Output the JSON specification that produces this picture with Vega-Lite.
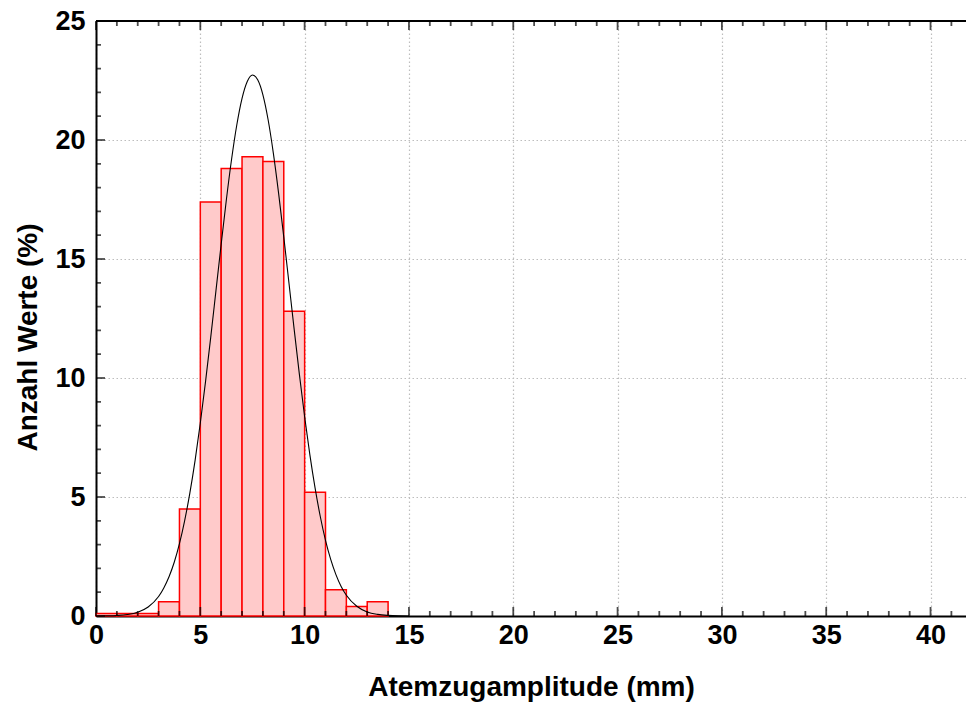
{
  "$schema": "https://vega.github.io/schema/vega-lite/v6.json",
  "width": 870,
  "height": 595,
  "autosize": {"type": "none"},
  "padding": {"left": 96, "top": 21, "right": 0, "bottom": 89},
  "background": "white",
  "config": {"view": {"stroke": null}, "font": "Liberation Sans"},
  "datasets": {
    "bars": [
      {"bin_start": 0, "bin_end": 1, "percent": 0.1},
      {"bin_start": 1, "bin_end": 2, "percent": 0.1},
      {"bin_start": 2, "bin_end": 3, "percent": 0.1},
      {"bin_start": 3, "bin_end": 4, "percent": 0.6},
      {"bin_start": 4, "bin_end": 5, "percent": 4.5},
      {"bin_start": 5, "bin_end": 6, "percent": 17.4},
      {"bin_start": 6, "bin_end": 7, "percent": 18.8},
      {"bin_start": 7, "bin_end": 8, "percent": 19.3},
      {"bin_start": 8, "bin_end": 9, "percent": 19.1},
      {"bin_start": 9, "bin_end": 10, "percent": 12.8},
      {"bin_start": 10, "bin_end": 11, "percent": 5.2},
      {"bin_start": 11, "bin_end": 12, "percent": 1.1},
      {"bin_start": 12, "bin_end": 13, "percent": 0.4},
      {"bin_start": 13, "bin_end": 14, "percent": 0.6}
    ],
    "curve": [
      {"x": 0, "y": 0.002}, {"x": 0.5, "y": 0.008}, {"x": 1, "y": 0.023}, {"x": 1.5, "y": 0.063},
      {"x": 2, "y": 0.16}, {"x": 2.5, "y": 0.38}, {"x": 3, "y": 0.82}, {"x": 3.25, "y": 1.18},
      {"x": 3.5, "y": 1.65}, {"x": 3.75, "y": 2.26}, {"x": 4, "y": 3.04}, {"x": 4.25, "y": 4.01},
      {"x": 4.5, "y": 5.17}, {"x": 4.75, "y": 6.54}, {"x": 5, "y": 8.11}, {"x": 5.25, "y": 9.85},
      {"x": 5.5, "y": 11.72}, {"x": 5.75, "y": 13.67}, {"x": 6, "y": 15.62}, {"x": 6.25, "y": 17.5},
      {"x": 6.5, "y": 19.2}, {"x": 6.75, "y": 20.64}, {"x": 7, "y": 21.75}, {"x": 7.25, "y": 22.46},
      {"x": 7.5, "y": 22.73}, {"x": 7.75, "y": 22.53}, {"x": 8, "y": 21.9}, {"x": 8.25, "y": 20.85},
      {"x": 8.5, "y": 19.45}, {"x": 8.75, "y": 17.78}, {"x": 9, "y": 15.93}, {"x": 9.25, "y": 13.98},
      {"x": 9.5, "y": 12.03}, {"x": 9.75, "y": 10.14}, {"x": 10, "y": 8.37}, {"x": 10.25, "y": 6.78},
      {"x": 10.5, "y": 5.38}, {"x": 10.75, "y": 4.18}, {"x": 11, "y": 3.18}, {"x": 11.25, "y": 2.38},
      {"x": 11.5, "y": 1.74}, {"x": 11.75, "y": 1.24}, {"x": 12, "y": 0.87}, {"x": 12.5, "y": 0.41},
      {"x": 13, "y": 0.17}, {"x": 13.5, "y": 0.068}, {"x": 14, "y": 0.025}, {"x": 14.5, "y": 0.008},
      {"x": 15, "y": 0.003}
    ],
    "ticks": [
      {"t": 0, "major": 1}, {"t": 1, "major": 0}, {"t": 2, "major": 0}, {"t": 3, "major": 0}, {"t": 4, "major": 0},
      {"t": 5, "major": 1}, {"t": 6, "major": 0}, {"t": 7, "major": 0}, {"t": 8, "major": 0}, {"t": 9, "major": 0},
      {"t": 10, "major": 1}, {"t": 11, "major": 0}, {"t": 12, "major": 0}, {"t": 13, "major": 0}, {"t": 14, "major": 0},
      {"t": 15, "major": 1}, {"t": 16, "major": 0}, {"t": 17, "major": 0}, {"t": 18, "major": 0}, {"t": 19, "major": 0},
      {"t": 20, "major": 1}, {"t": 21, "major": 0}, {"t": 22, "major": 0}, {"t": 23, "major": 0}, {"t": 24, "major": 0},
      {"t": 25, "major": 1}, {"t": 26, "major": 0}, {"t": 27, "major": 0}, {"t": 28, "major": 0}, {"t": 29, "major": 0},
      {"t": 30, "major": 1}, {"t": 31, "major": 0}, {"t": 32, "major": 0}, {"t": 33, "major": 0}, {"t": 34, "major": 0},
      {"t": 35, "major": 1}, {"t": 36, "major": 0}, {"t": 37, "major": 0}, {"t": 38, "major": 0}, {"t": 39, "major": 0},
      {"t": 40, "major": 1}, {"t": 41, "major": 0}
    ]
  },
  "layer": [
    {
      "data": {"name": "bars"},
      "mark": {"type": "rect", "fill": "#ffcaca", "stroke": "#ff0000", "strokeWidth": 1.5},
      "encoding": {
        "x": {
          "field": "bin_start", "type": "quantitative",
          "scale": {"domain": [0, 41.7], "nice": false, "zero": false},
          "axis": {
            "orient": "bottom",
            "values": [0, 5, 10, 15, 20, 25, 30, 35, 40],
            "labelFontSize": 27, "labelFontWeight": "bold", "labelColor": "black",
            "labelPadding": 6, "labelFlush": false, "labelOverlap": false,
            "ticks": false,
            "domainColor": "black", "domainWidth": 2,
            "grid": true, "gridColor": "#bdbdbd", "gridDash": [1.5, 2.5], "gridWidth": 1.2,
            "title": "Atemzugamplitude (mm)", "titleFontSize": 28, "titleFontWeight": "bold", "titleColor": "black",
            "titlePadding": 25
          }
        },
        "x2": {"field": "bin_end"},
        "y": {
          "field": "percent", "type": "quantitative",
          "scale": {"domain": [0, 25], "nice": false},
          "axis": {
            "orient": "left",
            "values": [0, 5, 10, 15, 20, 25],
            "labelFontSize": 27, "labelFontWeight": "bold", "labelColor": "black",
            "labelPadding": 11, "labelOverlap": false, "labelFlush": false,
            "ticks": false,
            "domainColor": "black", "domainWidth": 2,
            "grid": true, "gridColor": "#bdbdbd", "gridDash": [1.5, 2.5], "gridWidth": 1.2,
            "title": "Anzahl Werte (%)", "titleFontSize": 28, "titleFontWeight": "bold", "titleColor": "black",
            "titlePadding": 12, "titleY": 316
          }
        },
        "y2": {"datum": 0}
      }
    },
    {
      "data": {"name": "curve"},
      "mark": {"type": "line", "color": "black", "strokeWidth": 1.1, "interpolate": "monotone"},
      "encoding": {
        "x": {"field": "x", "type": "quantitative", "axis": null},
        "y": {"field": "y", "type": "quantitative", "axis": null}
      }
    },
    {
      "data": {"name": "ticks"},
      "transform": [{"filter": "datum.major == 0"}],
      "mark": {"type": "tick", "color": "black", "thickness": 1.8, "orient": "vertical", "size": 5},
      "encoding": {
        "x": {"field": "t", "type": "quantitative", "axis": null},
        "y": {"datum": 0.105, "type": "quantitative", "axis": null}
      }
    },
    {
      "data": {"name": "ticks"},
      "transform": [{"filter": "datum.major == 1"}],
      "mark": {"type": "tick", "color": "black", "thickness": 1.8, "orient": "vertical", "size": 9},
      "encoding": {
        "x": {"field": "t", "type": "quantitative", "axis": null},
        "y": {"datum": 0.19, "type": "quantitative", "axis": null}
      }
    },
    {
      "data": {"name": "ticks"},
      "transform": [{"filter": "datum.major == 0"}],
      "mark": {"type": "tick", "color": "black", "thickness": 1.8, "orient": "vertical", "size": 5},
      "encoding": {
        "x": {"field": "t", "type": "quantitative", "axis": null},
        "y": {"datum": 24.895, "type": "quantitative", "axis": null}
      }
    },
    {
      "data": {"name": "ticks"},
      "transform": [{"filter": "datum.major == 1"}],
      "mark": {"type": "tick", "color": "black", "thickness": 1.8, "orient": "vertical", "size": 9},
      "encoding": {
        "x": {"field": "t", "type": "quantitative", "axis": null},
        "y": {"datum": 24.81, "type": "quantitative", "axis": null}
      }
    },
    {
      "data": {"name": "ticks"},
      "transform": [{"filter": "datum.t <= 25 && datum.major == 0"}],
      "mark": {"type": "tick", "color": "black", "thickness": 1.8, "orient": "horizontal", "size": 5},
      "encoding": {
        "y": {"field": "t", "type": "quantitative", "axis": null},
        "x": {"datum": 0.12, "type": "quantitative", "axis": null}
      }
    },
    {
      "data": {"name": "ticks"},
      "transform": [{"filter": "datum.t <= 25 && datum.major == 1"}],
      "mark": {"type": "tick", "color": "black", "thickness": 1.8, "orient": "horizontal", "size": 9},
      "encoding": {
        "y": {"field": "t", "type": "quantitative", "axis": null},
        "x": {"datum": 0.216, "type": "quantitative", "axis": null}
      }
    },
    {
      "data": {"values": [{"a": 0, "b": 41.7, "c": 25}]},
      "mark": {"type": "rule", "color": "black", "strokeWidth": 2},
      "encoding": {
        "x": {"field": "a", "type": "quantitative", "axis": null},
        "x2": {"field": "b"},
        "y": {"field": "c", "type": "quantitative", "axis": null}
      }
    }
  ],
  "resolve": {"axis": {"x": "independent", "y": "independent"}}
}
